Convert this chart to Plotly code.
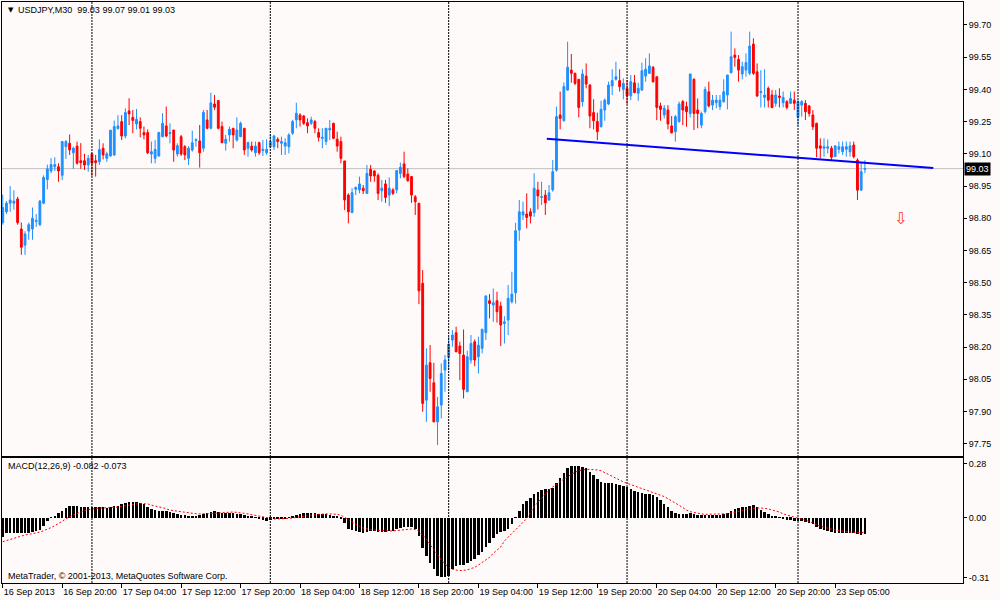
import plotly.graph_objects as go

# ---- data (USDJPY, M30) ----
opens = [
    98.78, 98.83, 98.87, 98.87, 98.89, 98.75, 98.675, 98.74, 98.75, 98.785,
    98.77, 98.87, 98.98, 99.02, 99.04, 99.04, 99.00, 99.133, 99.149, 99.105,
    99.136, 99.068, 99.068, 99.048, 99.10, 99.068, 99.063, 99.126, 99.079, 99.09,
    99.095, 99.217, 99.25, 99.183, 99.30, 99.27, 99.239, 99.25, 99.199, 99.199,
    99.099, 99.079, 99.09, 99.18, 99.23, 99.194, 99.211, 99.099, 99.18, 99.133,
    99.079, 99.118, 99.162, 99.16, 99.126, 99.258, 99.219, 99.332, 99.348, 99.227,
    99.149, 99.188, 99.219, 99.164, 99.18, 99.219, 99.126, 99.136, 99.105, 99.152,
    99.115, 99.105, 99.133, 99.133, 99.168, 99.149, 99.136, 99.133, 99.196, 99.258,
    99.281, 99.276, 99.245, 99.242, 99.25, 99.199, 99.172, 99.157, 99.211, 99.242,
    99.168, 99.157, 99.067, 98.908, 98.826, 98.935, 98.932, 98.94, 98.916, 99.028,
    99.02, 99.0, 98.928, 98.96, 98.908, 98.932, 98.932, 99.009, 99.053, 99.006,
    98.994, 98.90, 98.87, 98.497, 97.953, 98.127, 98.034, 97.852, 97.93, 98.093,
    98.152, 98.233, 98.267, 98.205, 98.163, 97.992, 98.14, 98.225, 98.155, 98.194,
    98.267, 98.416, 98.396, 98.416, 98.391, 98.31, 98.326, 98.411, 98.453, 98.745,
    98.815, 98.82, 98.83, 98.826, 98.932, 98.897, 98.908, 98.885, 98.932, 99.024,
    99.281, 99.254, 99.397, 99.49, 99.475, 99.447, 99.343, 99.462, 99.42, 99.292,
    99.25, 99.226, 99.304, 99.332, 99.416, 99.447, 99.441, 99.40, 99.405, 99.37,
    99.431, 99.382, 99.397, 99.462, 99.475, 99.503, 99.459, 99.323, 99.281, 99.304,
    99.23, 99.203, 99.25, 99.343, 99.32, 99.288, 99.447, 99.304, 99.234, 99.296,
    99.389, 99.327, 99.338, 99.32, 99.343, 99.374, 99.478, 99.56, 99.54, 99.472,
    99.49, 99.475, 99.611, 99.482, 99.385, 99.363, 99.405, 99.374, 99.335, 99.369,
    99.338, 99.343, 99.335, 99.35, 99.27, 99.327, 99.335, 99.323, 99.281, 99.242,
    99.137, 99.126, 99.126, 99.126, 99.087, 99.121, 99.11, 99.121, 99.11, 99.141,
    99.071, 98.931, 99.028,
]
highs = [
    98.91, 98.88, 98.95, 98.93, 98.90, 98.78, 98.74, 98.78, 98.85, 98.82,
    98.885, 99.00, 99.05, 99.08, 99.084, 99.056, 99.16, 99.164, 99.19, 99.133,
    99.157, 99.15, 99.10, 99.095, 99.102, 99.095, 99.167, 99.149, 99.11, 99.211,
    99.255, 99.28, 99.28, 99.312, 99.359, 99.304, 99.309, 99.27, 99.227, 99.214,
    99.157, 99.164, 99.203, 99.289, 99.32, 99.242, 99.211, 99.149, 99.188, 99.141,
    99.136, 99.208, 99.172, 99.234, 99.304, 99.304, 99.385, 99.374, 99.351, 99.25,
    99.188, 99.227, 99.219, 99.27, 99.25, 99.219, 99.157, 99.157, 99.157, 99.157,
    99.164, 99.168, 99.19, 99.188, 99.177, 99.18, 99.172, 99.196, 99.258, 99.338,
    99.289, 99.281, 99.265, 99.273, 99.258, 99.219, 99.219, 99.219, 99.258, 99.245,
    99.203, 99.18, 99.067, 98.916, 98.94, 98.947, 98.994, 98.955, 99.048, 99.048,
    99.025, 99.009, 98.978, 98.978, 98.99, 98.94, 99.025, 99.059, 99.11, 99.032,
    98.997, 98.908, 98.87, 98.559, 98.194, 98.21, 98.127, 97.968, 98.124, 98.163,
    98.248, 98.279, 98.295, 98.225, 98.282, 98.183, 98.256, 98.236, 98.248, 98.287,
    98.442, 98.447, 98.473, 98.458, 98.411, 98.344, 98.489, 98.551, 98.779, 98.885,
    98.877, 98.916, 98.846, 99.009, 98.97, 98.97, 98.932, 98.955, 99.071, 99.32,
    99.39, 99.432, 99.622, 99.565, 99.478, 99.447, 99.494, 99.521, 99.425, 99.354,
    99.292, 99.347, 99.358, 99.436, 99.494, 99.529, 99.494, 99.452, 99.444, 99.467,
    99.467, 99.431, 99.525, 99.545, 99.568, 99.509, 99.459, 99.338, 99.327, 99.327,
    99.276, 99.281, 99.343, 99.351, 99.343, 99.472, 99.452, 99.358, 99.296, 99.413,
    99.436, 99.374, 99.374, 99.374, 99.447, 99.467, 99.669, 99.591, 99.56, 99.529,
    99.568, 99.669, 99.638, 99.521, 99.49, 99.494, 99.413, 99.397, 99.397, 99.405,
    99.39, 99.35, 99.39, 99.39, 99.35, 99.35, 99.35, 99.327, 99.304, 99.245,
    99.172, 99.172, 99.167, 99.137, 99.141, 99.157, 99.157, 99.157, 99.157, 99.157,
    99.079, 99.063, 99.07,
]
lows = [
    98.77, 98.82, 98.83, 98.84, 98.77, 98.63, 98.63, 98.70, 98.70, 98.76,
    98.765, 98.865, 98.935, 99.01, 99.02, 98.97, 98.978, 99.076, 99.095, 99.03,
    99.05, 99.03, 99.025, 99.017, 98.997, 98.994, 99.048, 99.074, 99.063, 99.087,
    99.09, 99.214, 99.164, 99.172, 99.234, 99.196, 99.214, 99.177, 99.167, 99.099,
    99.056, 99.056, 99.087, 99.177, 99.177, 99.149, 99.063, 99.087, 99.09, 99.071,
    99.048, 99.11, 99.133, 99.036, 99.11, 99.214, 99.214, 99.304, 99.214, 99.149,
    99.115, 99.157, 99.126, 99.157, 99.177, 99.095, 99.087, 99.11, 99.087, 99.095,
    99.09, 99.095, 99.126, 99.118, 99.126, 99.095, 99.095, 99.102, 99.188, 99.219,
    99.227, 99.234, 99.196, 99.234, 99.196, 99.157, 99.126, 99.141, 99.164, 99.168,
    99.11, 99.056, 98.838, 98.776, 98.826, 98.908, 98.916, 98.913, 98.913, 98.97,
    98.97, 98.885, 98.877, 98.872, 98.857, 98.908, 98.916, 98.986, 98.986, 98.97,
    98.872, 98.815, 98.40, 97.899, 97.852, 97.992, 97.85, 97.744, 97.868, 97.992,
    98.093, 98.202, 98.178, 98.046, 97.961, 97.992, 98.124, 98.111, 98.077, 98.171,
    98.233, 98.334, 98.318, 98.314, 98.205, 98.217, 98.256, 98.403, 98.403, 98.695,
    98.792, 98.753, 98.776, 98.807, 98.841, 98.862, 98.815, 98.882, 98.924, 99.017,
    99.214, 99.25, 99.394, 99.431, 99.42, 99.27, 99.32, 99.405, 99.219, 99.214,
    99.164, 99.223, 99.254, 99.327, 99.374, 99.441, 99.39, 99.354, 99.332, 99.35,
    99.382, 99.347, 99.394, 99.436, 99.472, 99.431, 99.257, 99.254, 99.265, 99.214,
    99.195, 99.157, 99.245, 99.234, 99.226, 99.27, 99.211, 99.219, 99.219, 99.288,
    99.316, 99.304, 99.312, 99.304, 99.338, 99.307, 99.475, 99.506, 99.436, 99.447,
    99.459, 99.467, 99.467, 99.366, 99.316, 99.316, 99.316, 99.312, 99.32, 99.316,
    99.316, 99.307, 99.332, 99.304, 99.23, 99.273, 99.257, 99.273, 99.211, 99.084,
    99.079, 99.087, 99.102, 99.071, 99.087, 99.102, 99.095, 99.087, 99.087, 99.079,
    98.885, 98.928, 99.01,
]
closes = [
    98.85, 98.87, 98.885, 98.88, 98.78, 98.665, 98.727, 98.77, 98.80, 98.79,
    98.88, 98.99, 99.03, 99.05, 99.05, 99.02, 99.157, 99.157, 99.118, 99.126,
    99.056, 99.059, 99.048, 99.079, 99.056, 99.059, 99.12, 99.095, 99.10, 99.21,
    99.227, 99.23, 99.183, 99.292, 99.286, 99.255, 99.261, 99.219, 99.188, 99.105,
    99.11, 99.121, 99.199, 99.242, 99.183, 99.199, 99.118, 99.138, 99.099, 99.095,
    99.126, 99.152, 99.166, 99.105, 99.293, 99.219, 99.338, 99.317, 99.219, 99.152,
    99.168, 99.214, 99.188, 99.211, 99.242, 99.118, 99.152, 99.118, 99.136, 99.105,
    99.121, 99.121, 99.157, 99.183, 99.157, 99.157, 99.152, 99.188, 99.25, 99.289,
    99.258, 99.242, 99.23, 99.258, 99.219, 99.177, 99.177, 99.219, 99.219, 99.172,
    99.136, 99.079, 98.885, 98.83, 98.919, 98.944, 98.96, 98.928, 99.009, 98.997,
    98.997, 98.916, 98.94, 98.897, 98.94, 98.916, 99.022, 99.037, 98.994, 98.975,
    98.908, 98.877, 98.462, 97.938, 98.116, 98.054, 97.852, 97.922, 98.077, 98.14,
    98.214, 98.256, 98.178, 98.17, 98.003, 98.155, 98.217, 98.14, 98.209, 98.282,
    98.438, 98.403, 98.407, 98.365, 98.303, 98.318, 98.427, 98.447, 98.742, 98.83,
    98.83, 98.804, 98.81, 98.94, 98.904, 98.90, 98.872, 98.919, 99.017, 99.273,
    99.265, 99.413, 99.503, 99.475, 99.428, 99.316, 99.472, 99.425, 99.276, 99.254,
    99.203, 99.307, 99.35, 99.42, 99.441, 99.459, 99.413, 99.428, 99.37, 99.436,
    99.385, 99.405, 99.487, 99.494, 99.509, 99.436, 99.316, 99.307, 99.312, 99.239,
    99.198, 99.273, 99.332, 99.304, 99.296, 99.472, 99.288, 99.288, 99.288, 99.40,
    99.323, 99.35, 99.35, 99.35, 99.389, 99.467, 99.552, 99.549, 99.49, 99.506,
    99.525, 99.602, 99.475, 99.369, 99.39, 99.374, 99.35, 99.316, 99.374, 99.363,
    99.363, 99.316, 99.358, 99.335, 99.343, 99.343, 99.296, 99.288, 99.226, 99.126,
    99.126, 99.133, 99.133, 99.084, 99.137, 99.133, 99.133, 99.133, 99.137, 99.087,
    98.931, 99.017, 99.031,
]

macd_main = [
    -0.100, -0.079, -0.076, -0.076, -0.079, -0.079, -0.079, -0.078, -0.074, -0.067,
    -0.062, -0.041, -0.017, 0.005, 0.012, 0.024, 0.038, 0.050, 0.060, 0.064,
    0.062, 0.059, 0.055, 0.055, 0.055, 0.055, 0.055, 0.055, 0.052, 0.055,
    0.060, 0.064, 0.071, 0.079, 0.081, 0.081, 0.081, 0.079, 0.071, 0.059,
    0.045, 0.040, 0.038, 0.038, 0.036, 0.033, 0.028, 0.021, 0.017, 0.014,
    0.010, 0.010, 0.012, 0.014, 0.019, 0.026, 0.033, 0.038, 0.031, 0.026,
    0.024, 0.024, 0.024, 0.021, 0.019, 0.014, 0.010, 0.007, 0.002, -0.005,
    -0.010, -0.014, -0.010, -0.007, -0.007, -0.005, -0.002, 0.002, 0.007, 0.014,
    0.021, 0.024, 0.024, 0.024, 0.024, 0.022, 0.021, 0.019, 0.016, 0.012,
    0.007, -0.002, -0.024, -0.055, -0.064, -0.069, -0.074, -0.076, -0.071, -0.066,
    -0.069, -0.071, -0.071, -0.071, -0.069, -0.066, -0.059, -0.054, -0.048, -0.045,
    -0.047, -0.055, -0.093, -0.157, -0.197, -0.231, -0.266, -0.300, -0.307, -0.307,
    -0.300, -0.262, -0.249, -0.245, -0.242, -0.235, -0.225, -0.211, -0.193, -0.176,
    -0.152, -0.128, -0.105, -0.083, -0.071, -0.066, -0.055, -0.030, 0.005, 0.038,
    0.073, 0.090, 0.105, 0.123, 0.133, 0.143, 0.149, 0.149, 0.155, 0.180,
    0.207, 0.233, 0.259, 0.271, 0.271, 0.268, 0.266, 0.259, 0.240, 0.223,
    0.200, 0.188, 0.183, 0.180, 0.180, 0.176, 0.171, 0.166, 0.159, 0.150,
    0.142, 0.133, 0.128, 0.124, 0.124, 0.119, 0.109, 0.093, 0.074, 0.055,
    0.038, 0.024, 0.021, 0.021, 0.021, 0.024, 0.021, 0.014, 0.014, 0.017,
    0.017, 0.017, 0.017, 0.017, 0.021, 0.028, 0.035, 0.045, 0.050, 0.055,
    0.059, 0.062, 0.067, 0.057, 0.043, 0.031, 0.021, 0.012, 0.007, 0.002,
    -0.003, -0.009, -0.010, -0.014, -0.014, -0.016, -0.019, -0.024, -0.031, -0.045,
    -0.057, -0.062, -0.067, -0.074, -0.079, -0.079, -0.079, -0.079, -0.079, -0.079,
    -0.083, -0.090, -0.082,
]
macd_signal = [
    -0.123, -0.117, -0.111, -0.104, -0.097, -0.092, -0.088, -0.085, -0.081, -0.078,
    -0.073, -0.066, -0.059, -0.050, -0.040, -0.028, -0.016, -0.003, 0.007, 0.016,
    0.024, 0.031, 0.038, 0.043, 0.047, 0.050, 0.052, 0.052, 0.052, 0.054,
    0.055, 0.057, 0.060, 0.064, 0.067, 0.071, 0.074, 0.076, 0.074, 0.073,
    0.067, 0.060, 0.057, 0.054, 0.047, 0.041, 0.038, 0.035, 0.031, 0.029,
    0.028, 0.024, 0.022, 0.021, 0.021, 0.021, 0.022, 0.024, 0.026, 0.028,
    0.029, 0.031, 0.031, 0.029, 0.028, 0.024, 0.021, 0.017, 0.012, 0.007,
    0.003, 0.000, -0.003, -0.005, -0.005, -0.005, -0.003, -0.002, 0.000, 0.003,
    0.007, 0.010, 0.014, 0.016, 0.017, 0.019, 0.021, 0.021, 0.021, 0.021,
    0.019, 0.014, 0.005, -0.007, -0.021, -0.033, -0.043, -0.052, -0.057, -0.060,
    -0.062, -0.064, -0.066, -0.067, -0.067, -0.067, -0.066, -0.064, -0.062, -0.059,
    -0.057, -0.060, -0.069, -0.088, -0.109, -0.138, -0.166, -0.192, -0.216, -0.238,
    -0.255, -0.266, -0.271, -0.273, -0.271, -0.269, -0.262, -0.256, -0.244, -0.231,
    -0.218, -0.204, -0.183, -0.165, -0.150, -0.119, -0.100, -0.079, -0.062, -0.045,
    -0.024, -0.003, 0.028, 0.059, 0.081, 0.102, 0.128, 0.145, 0.161, 0.176,
    0.190, 0.202, 0.214, 0.226, 0.237, 0.245, 0.249, 0.252, 0.252, 0.252,
    0.249, 0.245, 0.235, 0.225, 0.214, 0.204, 0.195, 0.187, 0.180, 0.173,
    0.166, 0.157, 0.150, 0.143, 0.138, 0.131, 0.126, 0.119, 0.111, 0.100,
    0.090, 0.079, 0.066, 0.054, 0.041, 0.033, 0.028, 0.022, 0.021, 0.019,
    0.019, 0.019, 0.019, 0.019, 0.021, 0.022, 0.026, 0.029, 0.033, 0.038,
    0.043, 0.047, 0.050, 0.052, 0.052, 0.050, 0.047, 0.041, 0.036, 0.031,
    0.021, 0.016, 0.010, 0.007, 0.002, -0.003, -0.010, -0.017, -0.026, -0.035,
    -0.043, -0.048, -0.054, -0.059, -0.062, -0.066, -0.069, -0.071, -0.073, -0.074,
    -0.076, -0.076, -0.073,
]

tick_idx = [0, 16, 32, 48, 64, 80, 96, 112, 128, 144, 160, 176, 192, 208, 224]
tick_text = ["16 Sep 2013", "16 Sep 20:00", "17 Sep 04:00", "17 Sep 12:00",
             "17 Sep 20:00", "18 Sep 04:00", "18 Sep 12:00", "18 Sep 20:00",
             "19 Sep 04:00", "19 Sep 12:00", "19 Sep 20:00", "20 Sep 04:00",
             "20 Sep 12:00", "20 Sep 20:00", "23 Sep 05:00"]
day_breaks = [24, 72, 120, 168, 214]   # 17, 18, 19, 20, 23 Sep 00:00

price_ticks = [97.75, 97.90, 98.05, 98.20, 98.35, 98.50, 98.65,
               98.80, 98.95, 99.10, 99.25, 99.40, 99.55, 99.70]
macd_ticks = [0.28, 0.00, -0.31]

trend_idx = [146.4, 250.4]
trend_price = [99.17, 99.034]
arrow_idx = 241.6
arrow_price = 98.80

header = "USDJPY,M30\u00a0\u00a099.03 99.07 99.01 99.03"
macd_label = "MACD(12,26,9) -0.082 -0.073"
copyright = "MetaTrader, \u00a9 2001-2013, MetaQuotes Software Corp."

# ---- look ----
BULL = "#1E90FF"
BEAR = "#FF0000"
BG = "#FFFAFA"
FONT = "Liberation Sans"

W, H = 1000, 600
ML, MR, MT, MB = 2, 37, 2, 17
PW, PH = W - ML - MR, H - MT - MB


def px(x):
    return (x - ML) / PW


def py(y):
    return (H - MB - y) / PH


idx = list(range(len(closes)))

fig = go.Figure()

fig.add_trace(go.Candlestick(
    x=idx, open=opens, high=highs, low=lows, close=closes,
    increasing=dict(line=dict(color=BULL, width=1), fillcolor=BULL),
    decreasing=dict(line=dict(color=BEAR, width=1), fillcolor=BEAR),
    whiskerwidth=0, hoverinfo="skip", xaxis="x", yaxis="y",
))

fig.add_trace(go.Scatter(
    x=trend_idx, y=trend_price, mode="lines",
    line=dict(color="#0000FF", width=2), hoverinfo="skip",
    xaxis="x", yaxis="y",
))

fig.add_trace(go.Bar(
    x=idx, y=macd_main, width=0.68, marker=dict(color="#000000", line=dict(width=0)),
    hoverinfo="skip", xaxis="x2", yaxis="y2",
))

fig.add_trace(go.Scatter(
    x=idx, y=macd_signal, mode="lines",
    line=dict(color=BEAR, width=1, dash="2px,2px"), hoverinfo="skip",
    xaxis="x2", yaxis="y2",
))

shapes = []
for d in day_breaks:
    shapes.append(dict(type="line", xref="x", yref="paper", x0=d, x1=d, y0=0, y1=1,
                       line=dict(color="#000000", width=1, dash="2px,1px"), layer="above"))
# bid line
shapes.append(dict(type="line", xref="x domain", yref="y", x0=0, x1=1,
                   y0=closes[-1], y1=closes[-1],
                   line=dict(color="#C0C0C0", width=1), layer="below"))

annotations = [
    dict(text="\u25bc", x=px(6), y=py(10), xref="paper", yref="paper",
         xanchor="left", yanchor="middle", showarrow=False,
         font=dict(family="DejaVu Sans", size=7, color="#000000")),
    dict(text=header, x=px(16), y=py(10), xref="paper", yref="paper",
         xanchor="left", yanchor="middle", showarrow=False,
         font=dict(family=FONT, size=9, color="#000000")),
    dict(text=macd_label, x=px(6), y=py(466), xref="paper", yref="paper",
         xanchor="left", yanchor="middle", showarrow=False,
         font=dict(family=FONT, size=9, color="#000000")),
    dict(text=copyright, x=px(6), y=py(576), xref="paper", yref="paper",
         xanchor="left", yanchor="middle", showarrow=False,
         font=dict(family=FONT, size=9, color="#000000")),
    dict(text="%.2f" % closes[-1], x=1, y=closes[-1], xref="paper", yref="y",
         xanchor="left", yanchor="middle", showarrow=False, xshift=1,
         bgcolor="#000000", borderpad=1,
         font=dict(family=FONT, size=9, color="#FFFFFF")),
    dict(text="\u21e9", x=arrow_idx, y=arrow_price, xref="x", yref="y",
         xanchor="center", yanchor="middle", showarrow=False,
         font=dict(family="DejaVu Sans", size=16, color="#FF3A1A")),
]

axis_common = dict(showgrid=False, zeroline=False, showline=True, mirror=True,
                   linecolor="#000000", linewidth=1, automargin=False)

fig.update_layout(
    width=W, height=H,
    margin=dict(l=ML, r=MR, t=MT, b=MB, autoexpand=False),
    paper_bgcolor=BG, plot_bgcolor=BG,
    showlegend=False, hovermode=False, dragmode=False,
    bargap=0,
    xaxis=dict(range=[-0.2, 258.4], domain=[0, 1], anchor="y",
               showticklabels=False, ticks="", rangeslider=dict(visible=False),
               **axis_common),
    xaxis2=dict(range=[-0.2, 258.4], domain=[0, 1], anchor="y2", matches="x",
                tickvals=tick_idx, ticktext=tick_text, ticks="outside", ticklen=4,
                tickcolor="#000000", ticklabelposition="outside right", tickangle=0,
                tickfont=dict(family=FONT, size=9, color="#000000"),
                **axis_common),
    yaxis=dict(range=[97.693, 99.807], domain=[(H - MB - 456) / PH, 1], anchor="x",
               side="right", tickvals=price_ticks,
               ticktext=["%.2f" % v for v in price_ticks],
               ticks="outside", ticklen=3, tickcolor="#000000",
               tickfont=dict(family=FONT, size=9, color="#000000"),
               **axis_common),
    yaxis2=dict(range=[-0.337, 0.311], domain=[0, (H - MB - 458) / PH], anchor="x2",
                side="right", tickvals=macd_ticks,
                ticktext=["%.2f" % v for v in macd_ticks],
                ticks="outside", ticklen=3, tickcolor="#000000",
                tickfont=dict(family=FONT, size=9, color="#000000"),
                **axis_common),
    shapes=shapes,
    annotations=annotations,
)

fig.write_html("out.html", config={"displayModeBar": False},
               post_script="document.body.style.margin='0';")
